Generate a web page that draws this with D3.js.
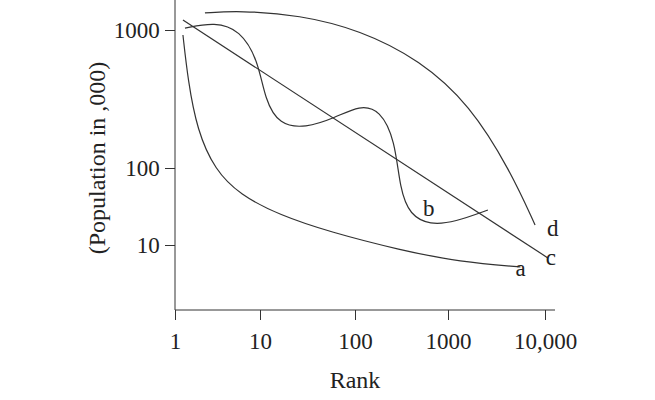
<!DOCTYPE html>
<html><head><meta charset="utf-8">
<script src="https://cdn.jsdelivr.net/npm/d3@7"></script>
<style>body{margin:0;background:#fff}text{font-family:"Liberation Serif",serif;fill:#222}</style>
</head><body><div id="chart"></div>
<script>
const xTicks = [1, 10, 100, 1000, 10000];
const yTicks = [10, 100, 1000];
// rank, population (,000)
const curveA = [[1.24,920],[1.42,434],[1.82,188],[2.95,94],[5.8,45],[16,24.5],[55,14.7],[305,8.6],[1345,6.0],[5580,5.2]];
const curveB = [[1.31,1033],[2.95,1143],[5.8,1000],[9.5,606],[11.3,311],[16,205],[30,195],[61,230],[113,286],[186,263],[269,160],[305,52],[390,24.5],[640,18.2],[1180,19.9],[2580,28.5]];
const curveC = [[1.24,1180],[10700,6.8]];
const curveD = [[2.25,1330],[5.8,1380],[26,1285],[113,1000],[500,606],[1690,286],[4350,94],[7900,18.2]];
const labels = [['a',5600,3.9],['b',620,24],['c',11500,5.5],['d',12000,13]];

const svg = d3.select('#chart').append('svg').attr('width',655).attr('height',400);
const x = d3.scaleLog().domain([1,10,100,1000,10000]).range([175,260,355,448,545]);
const y = d3.scaleLog().domain([10,100,1000]).range([245,168,30]);

svg.append('line').attr('x1',175).attr('x2',175).attr('y1',0).attr('y2',310).attr('stroke','#333');
svg.append('line').attr('x1',175).attr('x2',555).attr('y1',310).attr('y2',310).attr('stroke','#333');

const xAxis = svg.append('g').attr('transform','translate(0,310)')
  .call(d3.axisBottom(x).tickValues(xTicks).tickSize(10).tickFormat(d=>d===10000?'10,000':d));
const yAxis = svg.append('g').attr('transform','translate(175,0)')
  .call(d3.axisLeft(y).tickValues(yTicks).tickSize(10).tickFormat(d=>d));
[xAxis,yAxis].forEach(a=>{
  a.select('.domain').remove();
  a.selectAll('line').attr('stroke','#333');
  a.selectAll('text').style('font-size','23px').style('font-family','Liberation Serif, serif').attr('fill','#222');
});
xAxis.selectAll('text').attr('dy','1.15em');
yAxis.selectAll('text').attr('dx','-0.1em');

const line = d3.line().x(d=>x(d[0])).y(d=>y(d[1])).curve(d3.curveBasis);
const lineC = d3.line().x(d=>x(d[0])).y(d=>y(d[1]));
[curveA,curveB,curveD].forEach(c=>svg.append('path').attr('d',line(c)).attr('fill','none').attr('stroke','#333').attr('stroke-width',1.2));
svg.append('path').attr('d',lineC(curveC)).attr('fill','none').attr('stroke','#333').attr('stroke-width',1.2);

svg.selectAll('.lab').data(labels).enter().append('text')
  .attr('x',d=>x(d[1])).attr('y',d=>y(d[2])).text(d=>d[0]).style('font-size','23px').attr('text-anchor','middle');

svg.append('text').attr('x',355).attr('y',388).attr('text-anchor','middle').style('font-size','24px').text('Rank');
svg.append('text').attr('transform','translate(105,158) rotate(-90)').attr('text-anchor','middle').style('font-size','24px').text('(Population in ,000)');
</script></body></html>
